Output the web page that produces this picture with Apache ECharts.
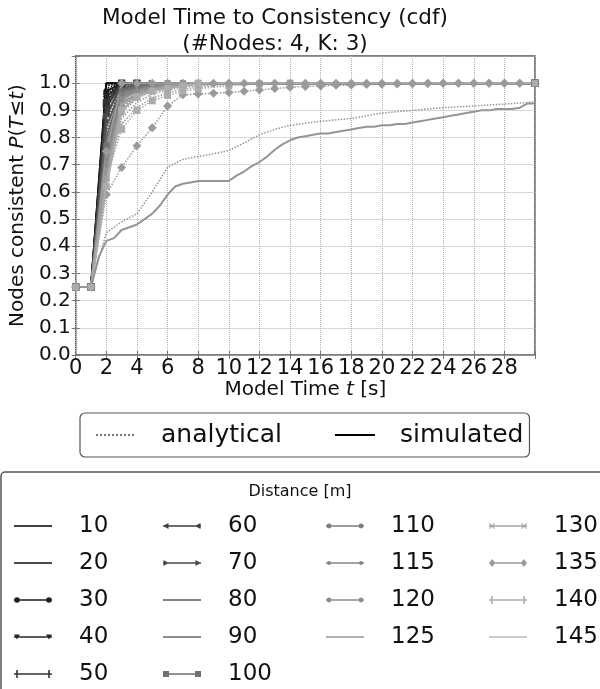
<!DOCTYPE html>
<html>
<head>
<meta charset="utf-8">
<script src="https://cdn.jsdelivr.net/npm/echarts@6/dist/echarts.min.js"></script>
<style>
  html, body { margin: 0; padding: 0; background: #fff; }
  #chart { width: 600px; height: 689px; }
</style>
</head>
<body>
<div id="chart"></div>
<script>
// Distances of the scenarios (m)
const distances = [10, 20, 30, 40, 50, 60, 70, 80, 90, 100, 110, 115, 120, 125, 130, 135, 140, 145];

// Axis ticks
const xTicks = [0, 2, 4, 6, 8, 10, 12, 14, 16, 18, 20, 22, 24, 26, 28];
const yTicks = [0.0, 0.1, 0.2, 0.3, 0.4, 0.5, 0.6, 0.7, 0.8, 0.9, 1.0];

// Analytical CDFs, [t (s), P(T<=t)]
const a10  = [[0,0.25],[1,0.25],[2,0.99],[3,1.0],[30,1.0]];
const a20  = [[0,0.25],[1,0.25],[2,0.98],[3,1.0],[30,1.0]];
const a30  = [[0,0.25],[1,0.25],[2,0.96],[3,1.0],[30,1.0]];
const a40  = [[0,0.25],[1,0.25],[2,0.94],[3,0.998],[4,1.0],[30,1.0]];
const a50  = [[0,0.25],[1,0.25],[2,0.92],[3,0.995],[4,1.0],[30,1.0]];
const a60  = [[0,0.25],[1,0.25],[2,0.89],[3,0.99],[4,1.0],[30,1.0]];
const a70  = [[0,0.25],[1,0.25],[2,0.86],[3,0.985],[4,0.998],[5,1.0],[30,1.0]];
const a80  = [[0,0.25],[1,0.25],[2,0.82],[3,0.96],[4,0.985],[5,0.995],[6,1.0],[30,1.0]];
const a90  = [[0,0.25],[1,0.25],[2,0.79],[3,0.95],[4,0.98],[5,0.99],[6,0.997],[7,1.0],[30,1.0]];
const a100 = [[0,0.25],[1,0.25],[2,0.77],[3,0.94],[4,0.975],[5,0.988],[6,0.995],[7,1.0],[30,1.0]];
const a110 = [[0,0.25],[1,0.25],[2,0.75],[3,0.92],[4,0.965],[5,0.982],[6,0.99],[7,0.996],[8,1.0],[30,1.0]];
const a115 = [[0,0.25],[1,0.25],[2,0.73],[3,0.91],[4,0.955],[5,0.975],[6,0.986],[7,0.993],[8,1.0],[30,1.0]];
const a120 = [[0,0.25],[1,0.25],[2,0.71],[3,0.89],[4,0.945],[5,0.97],[6,0.982],[7,0.99],[8,0.995],[9,1.0],[30,1.0]];
const a125 = [[0,0.25],[1,0.25],[2,0.69],[3,0.87],[4,0.93],[5,0.96],[6,0.975],[7,0.985],[8,0.99],[10,1.0],[30,1.0]];
const a130 = [[0,0.25],[1,0.25],[2,0.67],[3,0.85],[4,0.91],[5,0.945],[6,0.965],[7,0.978],[8,0.985],[10,0.995],[12,1.0],[30,1.0]];
const a135 = [[0,0.25],[1,0.25],[2,0.59],[3,0.69],[4,0.77],[5,0.836],[6,0.916],[7,0.957],[8,0.96],[9,0.963],[10,0.966],[11,0.97],[12,0.975],[13,0.98],[14,0.985],[15,0.988],[16,0.99],[17,0.992],[18,0.993],[19,0.995],[20,0.996],[21,0.997],[22,0.998],[23,0.999],[24,1.0],[25,1.0],[26,1.0],[27,1.0],[28,1.0],[29,1.0],[30,1.0]];
const a140 = [[0,0.25],[1,0.25],[2,0.65],[3,0.83],[4,0.90],[5,0.935],[6,0.955],[7,0.97],[8,0.98],[10,0.99],[12,0.997],[14,1.0],[30,1.0]];
const a145 = [[0,0.25],[1,0.25],[2,0.45],[3,0.49],[4,0.52],[5,0.60],[6,0.69],[7,0.72],[8,0.73],[9,0.74],[10,0.752],[11,0.78],[12,0.81],[13,0.83],[14,0.845],[15,0.853],[16,0.86],[17,0.865],[18,0.87],[19,0.88],[20,0.89],[21,0.895],[22,0.90],[23,0.905],[24,0.91],[25,0.913],[26,0.916],[27,0.92],[28,0.923],[29,0.927],[30,0.93]];

// Simulated CDFs, [t (s), fraction of nodes consistent]
const s10  = [[0,0.25],[1,0.25],[2,1.0],[30,1.0]];
const s20  = [[0,0.25],[1,0.25],[2,1.0],[30,1.0]];
const s30  = [[0,0.25],[1,0.25],[2,0.97],[3,1.0],[30,1.0]];
const s40  = [[0,0.25],[1,0.25],[2,0.95],[3,1.0],[30,1.0]];
const s50  = [[0,0.25],[1,0.25],[2,0.93],[3,1.0],[30,1.0]];
const s60  = [[0,0.25],[1,0.25],[2,0.91],[3,1.0],[30,1.0]];
const s70  = [[0,0.25],[1,0.25],[2,0.88],[3,0.995],[4,1.0],[30,1.0]];
const s80  = [[0,0.25],[1,0.25],[2,0.84],[3,0.98],[4,0.995],[5,1.0],[30,1.0]];
const s90  = [[0,0.25],[1,0.25],[2,0.80],[3,0.975],[4,0.99],[5,1.0],[30,1.0]];
const s100 = [[0,0.25],[1,0.25],[2,0.77],[3,0.97],[4,0.985],[5,0.995],[6,1.0],[30,1.0]];
const s110 = [[0,0.25],[1,0.25],[2,0.75],[3,0.96],[4,0.98],[5,0.99],[6,1.0],[30,1.0]];
const s115 = [[0,0.25],[1,0.25],[2,0.72],[3,0.95],[4,0.975],[5,0.99],[6,0.995],[7,1.0],[30,1.0]];
const s120 = [[0,0.25],[1,0.25],[2,0.70],[3,0.94],[4,0.97],[5,0.985],[6,0.99],[7,1.0],[30,1.0]];
const s125 = [[0,0.25],[1,0.25],[2,0.68],[3,0.93],[4,0.96],[5,0.98],[6,0.99],[7,0.995],[8,1.0],[30,1.0]];
const s130 = [[0,0.25],[1,0.25],[2,0.65],[3,0.92],[4,0.955],[5,0.975],[6,0.985],[7,0.99],[8,1.0],[30,1.0]];
const s135 = [[0,0.25],[1,0.25],[2,0.75],[3,1.0],[4,1.0],[5,1.0],[6,1.0],[7,1.0],[8,1.0],[9,1.0],[10,1.0],[11,1.0],[12,1.0],[13,1.0],[14,1.0],[15,1.0],[16,1.0],[17,1.0],[18,1.0],[19,1.0],[20,1.0],[21,1.0],[22,1.0],[23,1.0],[24,1.0],[25,1.0],[26,1.0],[27,1.0],[28,1.0],[29,1.0]];
const s140 = [[0,0.25],[1,0.25],[2,0.62],[3,0.90],[4,0.95],[5,0.97],[6,0.98],[7,0.99],[8,1.0],[30,1.0]];
const s145 = [[0,0.25],[0.5,0.25],[1,0.25],[1.5,0.36],[2,0.42],[2.5,0.43],[3,0.46],[3.5,0.47],[4,0.48],[4.5,0.50],[5,0.52],[5.5,0.55],[6,0.59],[6.5,0.62],[7,0.63],[7.5,0.635],[8,0.64],[8.5,0.64],[9,0.64],[9.5,0.64],[10,0.64],[10.5,0.66],[11,0.675],[11.5,0.695],[12,0.71],[12.5,0.73],[13,0.755],[13.5,0.775],[14,0.79],[14.5,0.80],[15,0.805],[15.5,0.81],[16,0.815],[16.5,0.815],[17,0.82],[17.5,0.825],[18,0.83],[18.5,0.835],[19,0.84],[19.5,0.84],[20,0.845],[20.5,0.845],[21,0.85],[21.5,0.85],[22,0.855],[22.5,0.86],[23,0.865],[23.5,0.87],[24,0.875],[24.5,0.88],[25,0.885],[25.5,0.89],[26,0.895],[26.5,0.90],[27,0.90],[27.5,0.905],[28,0.905],[28.5,0.905],[29,0.91],[29.5,0.925],[30,0.925]];

const analytical = [a10,a20,a30,a40,a50,a60,a70,a80,a90,a100,a110,a115,a120,a125,a130,a135,a140,a145];
const simulated  = [s10,s20,s30,s40,s50,s60,s70,s80,s90,s100,s110,s115,s120,s125,s130,s135,s140,s145];

// Grey ramp, one shade per distance (legend keys)
const grays = ['#000000','#101010','#1c1c1c','#262626','#333333','#3e3e3e','#4a4a4a','#585858','#666666','#707070',
               '#7c7c7c','#858585','#8d8d8d','#969696','#a3a3a3','#9a9a9a','#acacac','#b8b8b8'];
// Line shade inside the plot (the slow 145 m run reads darker on screen)
const lineGrays = grays.map((g, i) => i === 17 ? '#959595' : g);

const BAR = 'path://M0,0H2V10H0Z';
const CROSS = 'path://M1,0L5,4L9,0L10,1L6,5L10,9L9,10L5,6L1,10L0,9L4,5L0,1Z';
// Plot markers: [symbol, size, rotate]
const markers = [
  ['none',0,0],['none',0,0],['circle',6,0],['triangle',7,180],[BAR,7,0],
  ['triangle',7,90],['triangle',7,-90],['none',0,0],['none',0,0],['rect',6,0],
  ['circle',5,0],['circle',4,0],['circle',5,0],['none',0,0],[CROSS,6,0],
  ['diamond',9,0],[BAR,7,0],['none',0,0]
];

// Legend keys: a 38 px line with a marker drawn at each end (all sub-paths clockwise)
const KEY_LINE = 'M0,4.2H38V5.8H0Z';
const endShapes = {
  none: () => '',
  circle: r => cx => `M${cx - r},5A${r},${r} 0 1 1 ${cx + r},5A${r},${r} 0 1 1 ${cx - r},5Z`,
  triDown: cx => `M${cx - 3},2.5H${cx + 3}L${cx},7.5Z`,
  bar: cx => `M${cx - 0.8},1H${cx + 0.8}V9H${cx - 0.8}Z`,
  triLeft: cx => `M${cx - 3},5L${cx + 2.5},2V8Z`,
  triRight: cx => `M${cx + 3},5L${cx - 2.5},8V2Z`,
  square: cx => `M${cx - 3},2H${cx + 3}V8H${cx - 3}Z`,
  cross: cx => `M${cx - 3},2.7L${cx - 2.3},2L${cx + 3},7.3L${cx + 2.3},8Z M${cx + 3},2.7L${cx - 2.3},8L${cx - 3},7.3L${cx + 2.3},2Z`,
  diamond: cx => `M${cx},1L${cx + 3.2},5L${cx},9L${cx - 3.2},5Z`
};
const keyShapes = [
  endShapes.none, endShapes.none, endShapes.circle(2.8), endShapes.triDown, endShapes.bar,
  endShapes.triLeft, endShapes.triRight, endShapes.none, endShapes.none, endShapes.square,
  endShapes.circle(2.4), endShapes.circle(2), endShapes.circle(2.4), endShapes.none, endShapes.cross,
  endShapes.diamond, endShapes.bar, endShapes.none
];
const keyIcon = i => {
  const s = keyShapes[i];
  return 'path://' + KEY_LINE + s(3) + s(35);
};

const series = [];
distances.forEach((d, i) => {
  const [sym, size, rot] = markers[i];
  series.push({
    name: String(d), type: 'line', data: simulated[i], z: 3,
    symbol: sym, symbolSize: size, symbolRotate: rot, showSymbol: sym !== 'none',
    lineStyle: { color: lineGrays[i], width: 2 }, itemStyle: { color: lineGrays[i] },
    emphasis: { disabled: true }, animation: false
  });
});
distances.forEach((d, i) => {
  const [sym, size, rot] = markers[i];
  series.push({
    name: String(d), type: 'line', data: analytical[i], z: 2,
    symbol: sym, symbolSize: size, symbolRotate: rot, showSymbol: sym !== 'none',
    lineStyle: { color: lineGrays[i], width: 1.5, type: 'dotted' }, itemStyle: { color: lineGrays[i] },
    emphasis: { disabled: true }, animation: false
  });
});
// Style keys for the first legend
series.push({ name: 'analytical', type: 'line', data: [], symbol: 'none',
  lineStyle: { color: '#777', width: 1.5, type: 'dotted' }, itemStyle: { color: '#777' } });
series.push({ name: 'simulated', type: 'line', data: [], symbol: 'none',
  lineStyle: { color: '#000', width: 2 }, itemStyle: { color: '#000' } });

const FONT = 'DejaVu Sans';
const colX = [14, 163, 326, 489];
const colIdx = [[0,1,2,3,4],[5,6,7,8,9],[10,11,12,13],[14,15,16,17]];
const distLegends = colIdx.map((col, k) => ({
  orient: 'vertical', left: colX[k], top: 513, itemWidth: 38, itemHeight: 10, itemGap: 11,
  padding: 0, selectedMode: false, symbolKeepAspect: true,
  data: col.map(i => ({ name: String(distances[i]), icon: keyIcon(i), itemStyle: { color: grays[i] } })),
  textStyle: { fontFamily: FONT, fontSize: 23, color: '#111', lineHeight: 26, padding: [0,0,0,22] }
}));

const tickOnly = {
  axisLine: { show: false }, axisLabel: { show: false }, splitLine: { show: false },
  axisTick: { show: true, inside: true, length: 4, lineStyle: { color: '#777' } }
};

const chart = echarts.init(document.getElementById('chart'), null, { renderer: 'canvas' });
chart.setOption({
  backgroundColor: '#fff',
  animation: false,
  title: {
    text: 'Model Time to Consistency (cdf)\n(#Nodes: 4, K: 3)',
    left: 270, top: 0, textAlign: 'center',
    textStyle: { fontFamily: FONT, fontSize: 21.5, fontWeight: 'normal', color: '#111', lineHeight: 26 }
  },
  grid: { left: 73, right: 65, top: 56, bottom: 334, show: true, borderColor: '#555', borderWidth: 1.5, containLabel: false },
  xAxis: [{
    type: 'value', min: 0, max: 30, interval: 2,
    name: 'Model Time {i|t} [s]', nameLocation: 'middle', nameGap: 22,
    nameTextStyle: { fontFamily: FONT, fontSize: 20, color: '#111', verticalAlign: 'top',
      rich: { i: { fontFamily: FONT, fontSize: 20, fontStyle: 'italic', color: '#111' } } },
    axisLine: { show: false },
    axisTick: { show: true, inside: true, length: 4, lineStyle: { color: '#777' } },
    axisLabel: { fontFamily: FONT, fontSize: 21, color: '#111', margin: 3,
      formatter: v => xTicks.includes(v) ? String(v) : '' },
    splitLine: { show: true, lineStyle: { color: '#b0b0b0', type: 'dotted', width: 1 } }
  }, Object.assign({ type: 'value', position: 'top', min: 0, max: 30, interval: 2 }, tickOnly)],
  yAxis: [{
    type: 'value', min: 0, max: 1.1, interval: 0.1,
    name: '{n|Nodes consistent }{i|P}{n|(}{i|T}{n|≤}{i|t}{n|)}', nameLocation: 'middle', nameGap: 42, nameRotate: 90,
    nameTextStyle: { rich: {
      n: { fontFamily: FONT, fontSize: 20, color: '#111' },
      i: { fontFamily: FONT, fontSize: 20, fontStyle: 'italic', color: '#111' } } },
    axisLine: { show: false },
    axisTick: { show: true, inside: true, length: 4, lineStyle: { color: '#777' } },
    axisLabel: { fontFamily: FONT, fontSize: 20, color: '#111', margin: 5,
      formatter: v => { const r = Math.round(v * 10) / 10; return yTicks.includes(r) ? r.toFixed(1) : ''; } },
    splitLine: { show: true, lineStyle: { color: '#b0b0b0', type: 'dotted', width: 1 } }
  }, Object.assign({ type: 'value', position: 'right', min: 0, max: 1.1, interval: 0.1 }, tickOnly)],
  legend: [
    {
      left: 80, top: 413, orient: 'horizontal', itemWidth: 40, itemHeight: 10, itemGap: 52,
      padding: [8, 6, 8, 15], selectedMode: false,
      borderColor: '#555', borderWidth: 1.2, borderRadius: 5,
      data: [
        { name: 'analytical', itemStyle: { opacity: 0 } },
        { name: 'simulated', itemStyle: { opacity: 0 } }
      ],
      textStyle: { fontFamily: FONT, fontSize: 25, color: '#111', lineHeight: 28, padding: [0,0,0,20] }
    },
    ...distLegends
  ],
  graphic: [
    { type: 'rect', shape: { x: 1, y: 472, width: 640, height: 260, r: 4 }, z: -1,
      style: { fill: '#fff', stroke: '#555', lineWidth: 1.5 } },
    { type: 'text', x: 300, y: 492, style: { text: 'Distance [m]', fontFamily: FONT, fontSize: 16, fill: '#111', textAlign: 'center', textVerticalAlign: 'middle' } }
  ],
  series: series
});
</script>
</body>
</html>
